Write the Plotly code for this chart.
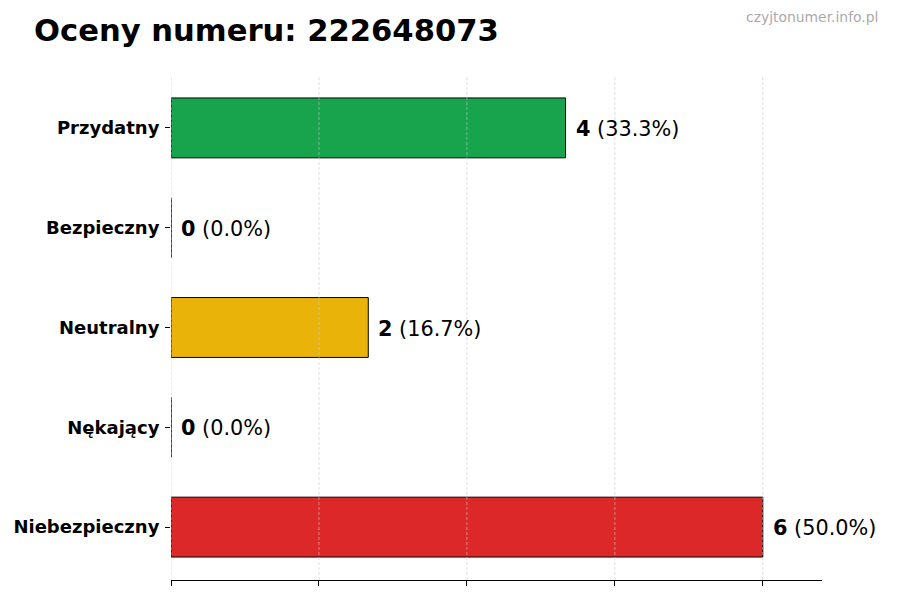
import plotly.graph_objects as go

categories = ["Niebezpieczny", "Nękający", "Neutralny", "Bezpieczny", "Przydatny"]
counts = [6, 0, 2, 0, 4]
colors = ["#dc2626", "#6b7280", "#eab308", "#3b82f6", "#16a34a"]
total = sum(counts)
percents = [c / total * 100 for c in counts]
x_ticks = [0, 1.5, 3, 4.5, 6]
title_text = "Oceny numeru: 222648073"
watermark = "czyjtonumer.info.pl"

FONT = "DejaVu Sans"
# page body has an 8px margin; compensate so the plot lands where the reference has it
OFF = 8
L, R, T, B = 171 - OFF, 900 - 822 + OFF, 75 - OFF, 600 - 580 + OFF
PW, PH = 900 - L - R, 600 - T - B

fig = go.Figure()
fig.add_trace(go.Bar(
    y=categories,
    x=counts,
    orientation="h",
    width=0.6,
    marker=dict(color=colors, opacity=0.99, line=dict(color="black", width=1)),
    hoverinfo="skip",
))

for cat, c, p in zip(categories, counts, percents):
    fig.add_annotation(
        x=c, y=cat, xref="x", yref="y",
        text=f"<b>{c}</b> ({p:.1f}%)",
        showarrow=False, xanchor="left", yanchor="middle",
        xshift=8, yshift=-1,
        font=dict(family=FONT, size=20.8, color="black"),
    )

# dashed grid drawn above the bars, as in the reference
for xv in x_ticks:
    fig.add_shape(
        type="line", xref="x", yref="paper",
        x0=xv, x1=xv, y0=0, y1=1, layer="above",
        line=dict(color="rgba(200,200,200,0.75)", width=0.8, dash="3px,2px"),
    )

fig.update_layout(
    width=900, height=600,
    margin=dict(l=L, r=R, t=T, b=B, autoexpand=False),
    paper_bgcolor="white", plot_bgcolor="white",
    showlegend=False,
    font=dict(family=FONT, color="black"),
    title=dict(
        text=f"<b>{title_text}</b>",
        x=(34 - OFF) / 900, xref="container", xanchor="left",
        y=1 - (30 - OFF) / 600, yref="container", yanchor="middle",
        font=dict(family=FONT, size=30.6, color="black"),
    ),
    xaxis=dict(
        range=[0, 6.6],
        tickvals=x_ticks,
        showticklabels=False,
        ticks="outside", ticklen=5, tickcolor="black", tickwidth=1,
        showline=True, linecolor="black", linewidth=1,
        showgrid=False, zeroline=False, fixedrange=True,
        automargin=False,
    ),
    yaxis=dict(
        categoryorder="array", categoryarray=categories,
        range=[-0.53, 4.53],
        ticks="outside", ticklen=5, tickcolor="black", tickwidth=1,
        showline=False, showgrid=False, zeroline=False,
        tickfont=dict(family=FONT, size=18, color="black", weight="bold"),
        ticklabelstandoff=2,
        automargin=False,
        fixedrange=True,
    ),
)

fig.add_annotation(
    x=(880 - 171) / PW, y=(580 - 17) / PH,
    xref="paper", yref="paper",
    text=watermark, showarrow=False,
    xanchor="right", yanchor="middle",
    font=dict(family=FONT, size=13.9, color="#aaaaaa"),
)

fig.write_html("out.html")
